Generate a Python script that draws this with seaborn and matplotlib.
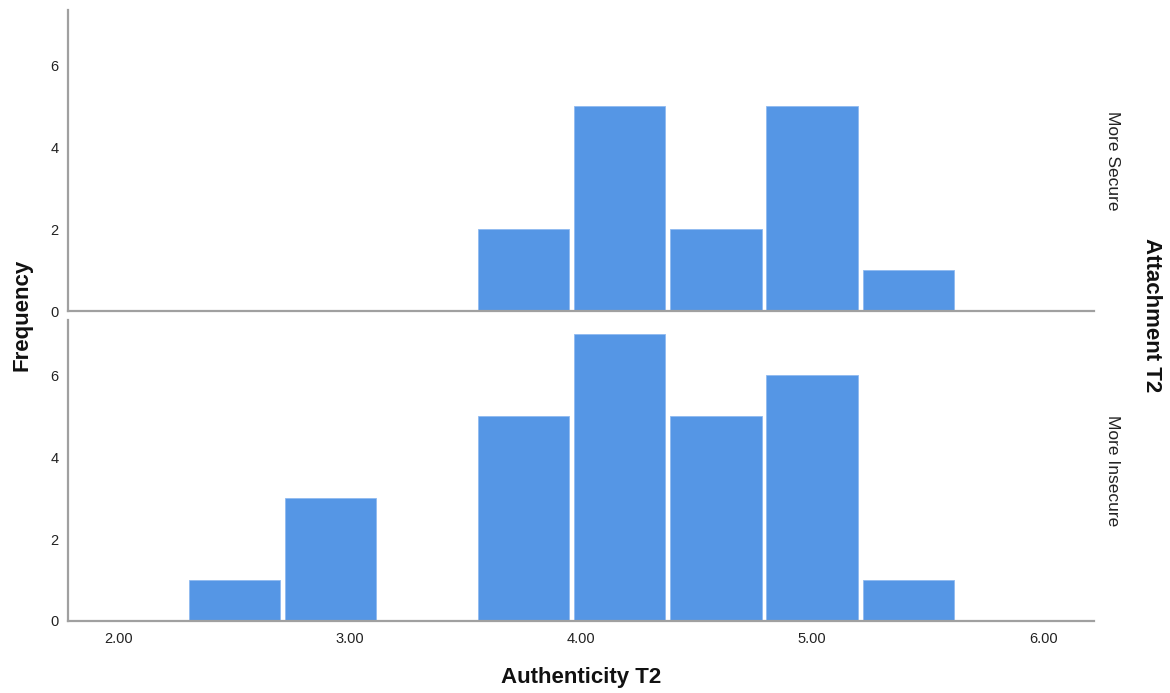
import numpy as np
import pandas as pd
import matplotlib
matplotlib.use("Agg")
import matplotlib.pyplot as plt
import seaborn as sns

# Histogram bins (width 5/12) and frequencies per attachment group
bin_edges = [2.2917, 2.7083, 3.125, 3.5417, 3.9583, 4.375, 4.7917, 5.2083, 5.625]
counts_secure = [0, 0, 0, 2, 5, 2, 5, 1]
counts_insecure = [1, 3, 0, 5, 7, 5, 6, 1]
groups = ["More Secure", "More Insecure"]
x_ticks = [2.0, 3.0, 4.0, 5.0, 6.0]
y_ticks = [0, 2, 4, 6]

sns.set_theme(style="white")
plt.rcParams["font.family"] = ["Liberation Sans", "DejaVu Sans"]

mids = [(a + b) / 2 for a, b in zip(bin_edges[:-1], bin_edges[1:])]
frames = []
for g, c in zip(groups, [counts_secure, counts_insecure]):
    frames.append(pd.DataFrame({"Authenticity T2": mids, "n": c, "Attachment T2": g}))
df = pd.concat(frames, ignore_index=True)

fig = plt.figure(figsize=(11.7, 6.93), dpi=100)
left, width = 0.0581, 0.877
ax_top = fig.add_axes([left, 0.5512, width, 0.4344])
ax_bot = fig.add_axes([left, 0.1039, width, 0.4343], sharex=ax_top)

bar_color = "#5596e5"
spine_color = "#a0a0a0"
for ax, g in zip([ax_top, ax_bot], groups):
    sub = df[df["Attachment T2"] == g]
    sns.histplot(data=sub, x="Authenticity T2", weights="n", bins=bin_edges,
                 color=bar_color, alpha=1, shrink=0.95, edgecolor="#8fbaf0",
                 linewidth=0.6, ax=ax)
    ax.set_xlim(1.78, 6.22)
    ax.set_ylim(0, 7.35)
    ax.set_yticks(y_ticks)
    ax.set_yticklabels([str(v) for v in y_ticks])
    ax.set_xlabel("")
    ax.set_ylabel("")
    for s in ["top", "right"]:
        ax.spines[s].set_visible(False)
    for s in ["left", "bottom"]:
        ax.spines[s].set_color(spine_color)
        ax.spines[s].set_linewidth(1.6)
    ax.tick_params(axis="both", length=0, labelsize=10.5, colors="#222222")
    ax.tick_params(axis="y", pad=7)
    ax.tick_params(axis="x", pad=8)
    ax.text(1.011, 0.5, g, transform=ax.transAxes, rotation=-90,
            ha="left", va="center", fontsize=12.5, color="#222222")

ax_top.tick_params(axis="x", labelbottom=False)
ax_bot.set_xticks(x_ticks)
ax_bot.set_xticklabels([f"{v:.2f}" for v in x_ticks])

fig.text(0.019, 0.545, "Frequency", rotation=90, ha="center", va="center",
         fontsize=16, fontweight="bold", color="#111111")
fig.text(0.497, 0.023, "Authenticity T2", ha="center", va="center",
         fontsize=16, fontweight="bold", color="#111111")
fig.text(0.984, 0.545, "Attachment T2", rotation=-90, ha="center", va="center",
         fontsize=16, fontweight="bold", color="#111111")

fig.savefig("out.png", dpi=100, facecolor="white")
